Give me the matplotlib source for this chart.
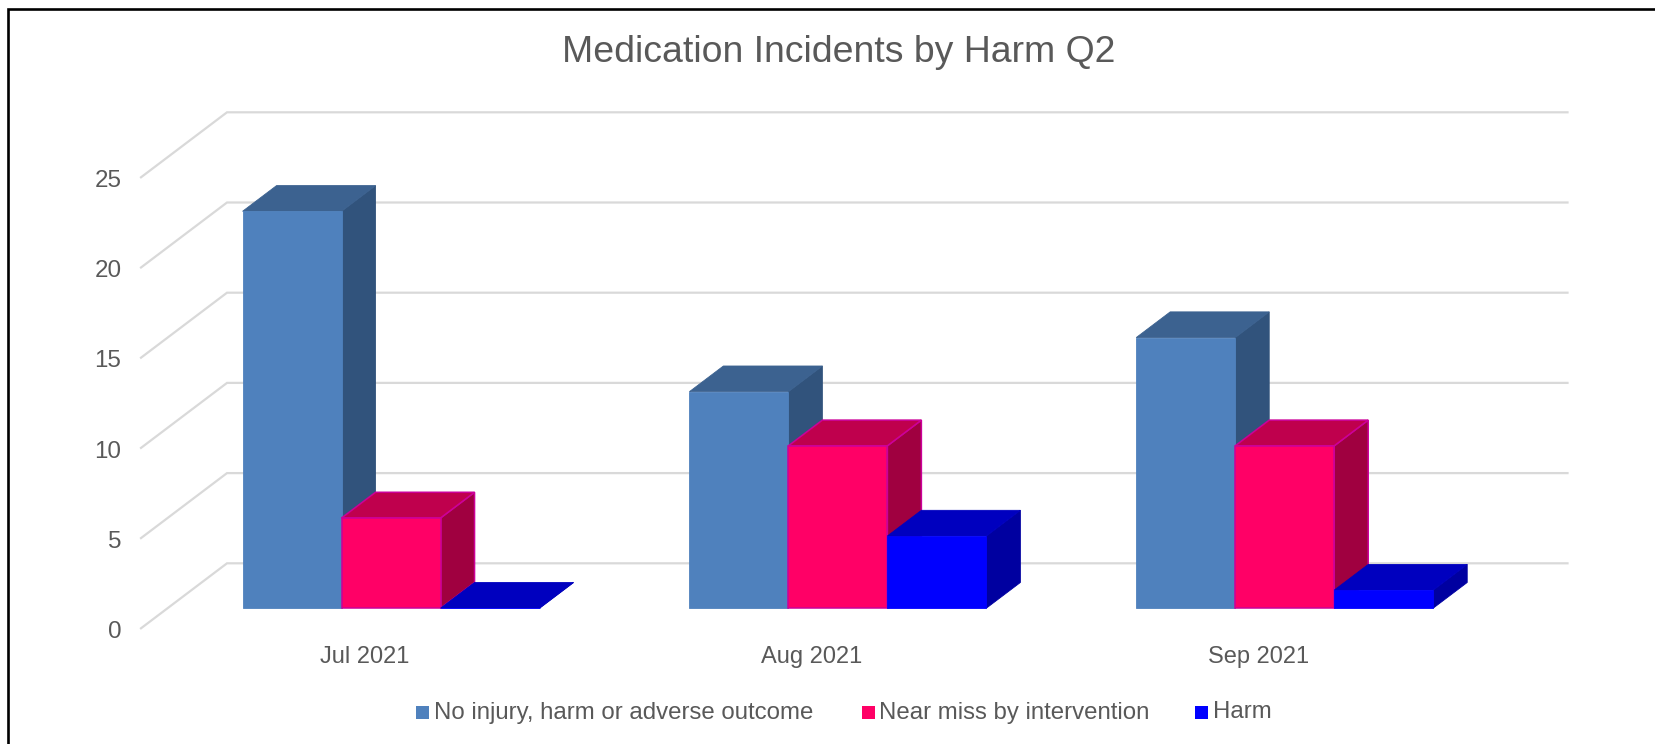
import matplotlib
matplotlib.use("Agg")
import matplotlib.pyplot as plt
from matplotlib.patches import Polygon, Rectangle
from matplotlib.transforms import ScaledTranslation

plt.rcParams['font.family'] = ['Liberation Sans', 'DejaVu Sans']

months = ["Jul 2021", "Aug 2021", "Sep 2021"]
no_injury = [22, 12, 15]
near_miss = [5, 9, 9]
harm = [0, 4, 1]
series_names = ["No injury, harm or adverse outcome", "Near miss by intervention", "Harm"]
y_ticks = [0, 5, 10, 15, 20, 25]

W, H = 1656, 744
TEXT = "#595959"
GRID = "#D9D9D9"

# front, top and side shades plus outline for each series
STYLES = [
    dict(front="#4F81BD", top="#3C6290", side="#31537C", edge="#4F81BD"),
    dict(front="#FF0066", top="#BF004D", side="#A00040", edge="#CC0099"),
    dict(front="#0000FF", top="#0000BF", side="#0000A0", edge="#0000FF"),
]

fig = plt.figure(figsize=(W / 100, H / 100), dpi=100, facecolor="white")
fig.add_artist(Rectangle((8 / W, 0 - 0.01), (W - 8 + 20) / W, 1 - 9 / H + 0.01,
                         transform=fig.transFigure, fill=False, edgecolor="black", linewidth=1.9))

# axes spans the front edge of the floor; depth is added as an oblique shift
left, right, floor, top = 141, 1481.5, 628.3, 177.3
ax = fig.add_axes([left / W, 1 - floor / H, (right - left) / W, (floor - top) / H])
ax.set_xlim(-0.5, 2.5)
ax.set_ylim(0, 25)
ax.patch.set_visible(False)
for spine in ax.spines.values():
    spine.set_visible(False)

DEPTH_X = 86 / ((right - left) / 3)
DEPTH_Y = 65 / ((floor - top) / 25)
BAR_W = 99 / ((right - left) / 3)
BAR_NEAR, BAR_FAR = 0.31, 0.705


def sheared(x, y, d):
    return (x + d * DEPTH_X, y + d * DEPTH_Y)


# gridlines run across the floor side wall and then along the back wall
for v in y_ticks:
    p0 = sheared(-0.5, v, 0)
    p1 = sheared(-0.5, v, 1)
    p2 = sheared(2.5, v, 1)
    ax.plot([p0[0], p1[0], p2[0]], [p0[1], p1[1], p2[1]], color=GRID, lw=1.6,
            clip_on=False, zorder=1, solid_joinstyle="miter")


def draw_bar(x0, value, style, zorder):
    x1 = x0 + BAR_W
    top_face = [sheared(x0, value, BAR_NEAR), sheared(x1, value, BAR_NEAR),
                sheared(x1, value, BAR_FAR), sheared(x0, value, BAR_FAR)]
    side_face = [sheared(x1, 0, BAR_NEAR), sheared(x1, value, BAR_NEAR),
                 sheared(x1, value, BAR_FAR), sheared(x1, 0, BAR_FAR)]
    front_face = [sheared(x0, 0, BAR_NEAR), sheared(x1, 0, BAR_NEAR),
                  sheared(x1, value, BAR_NEAR), sheared(x0, value, BAR_NEAR)]
    outlined = style["edge"] != style["front"]
    for pts, colour in ((side_face, style["side"]), (top_face, style["top"]), (front_face, style["front"])):
        ax.add_patch(Polygon(pts, closed=True, facecolor=colour,
                             edgecolor=style["edge"] if outlined else colour,
                             linewidth=1.1 if outlined else 0.6,
                             clip_on=False, zorder=zorder, joinstyle="miter"))


for cat in range(len(months)):
    for s, values in enumerate((no_injury, near_miss, harm)):
        x0 = cat - 1.5 * BAR_W + s * BAR_W
        draw_bar(x0, values[cat], STYLES[s], 3 + s * 0.1 + cat)

ax.set_xticks(range(len(months)), months)
ax.set_yticks(y_ticks, [str(v) for v in y_ticks])
ax.tick_params(axis="both", length=0, labelcolor=TEXT)
ax.tick_params(axis="x", pad=12.5, labelsize=17)
ax.tick_params(axis="y", pad=14.2, labelsize=17.4)

# nudge the value labels down to sit level with the gridline ends
nudge = ScaledTranslation(0, -1.2 / 100, fig.dpi_scale_trans)
for label in ax.get_yticklabels():
    label.set_transform(label.get_transform() + nudge)

fig.text(839 / W, 1 - 52 / H, "Medication Incidents by Harm Q2", ha="center", va="center",
         fontsize=26.9, color=TEXT)

# legend laid out by hand along the bottom edge
legend_items = list(zip(series_names, (416, 862, 1195), (434, 879, 1213)))
for (name, sq_x, txt_x), style in zip(legend_items, STYLES):
    fig.add_artist(Rectangle((sq_x / W, 1 - 719 / H), 13.5 / W, 13.5 / H,
                             transform=fig.transFigure, facecolor=style["front"], edgecolor="none"))
    fig.text(txt_x / W, 1 - 712.5 / H, name, ha="left", va="center", fontsize=17.25, color=TEXT)

fig.savefig("out.png", dpi=100)
